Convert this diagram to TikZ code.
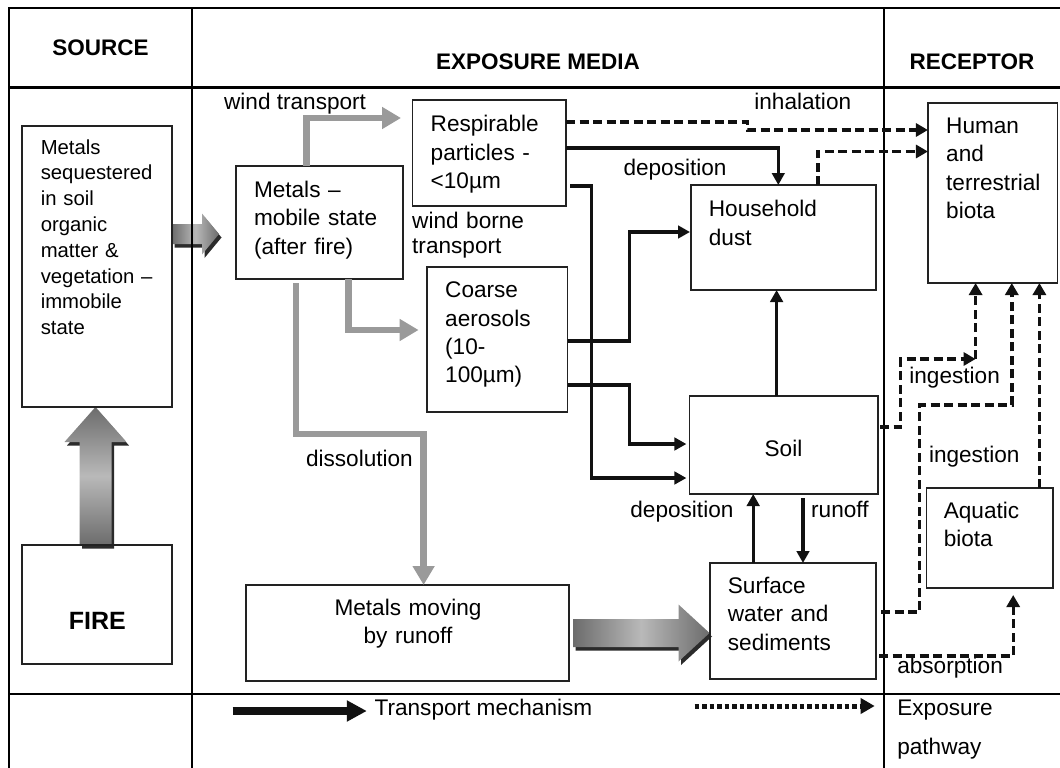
\documentclass[tikz,border=0pt]{standalone}
\usepackage{fontspec}
\setmainfont{Liberation Sans}
\usetikzlibrary{arrows.meta,calc}
\pgfdeclarelayer{bg}
\pgfdeclarelayer{mid}
\pgfsetlayers{bg,mid,main}
\definecolor{arrgray}{HTML}{9A9A9A}
\definecolor{fatdark}{HTML}{6C6C6C}
\definecolor{fatlight}{HTML}{B9B9B9}
\definecolor{shadowc}{HTML}{2B2B2B}
\definecolor{boxc}{HTML}{222222}
\definecolor{linec}{HTML}{111111}
\newcommand{\mybodyfont}{\fontsize{22.6}{28.4}\selectfont}
\newcommand{\myseqfont}{\fontsize{20.3}{25.8}\selectfont}
\newcommand{\myhdrfont}{\fontsize{22.5}{27}\selectfont\bfseries}
\begin{document}
\begin{tikzpicture}[x=1pt,y=-1pt,
  box/.style={draw=boxc, line width=1.4pt, rectangle, inner sep=0pt, outer sep=0pt},
  btxt/.style={font=\mybodyfont, inner sep=0pt, anchor=base west, align=left},
  lbl/.style={font=\mybodyfont, inner sep=0pt, anchor=base west},
  hdr/.style={font=\myhdrfont, inner sep=0pt, anchor=base},
  tbl/.style={draw=black, line width=2.3pt},
  grayarr/.style={draw=arrgray, line width=6.5pt, line join=miter, -{Triangle[length=19pt,width=21pt]}},
  solidarr/.style={draw=linec, line width=3.4pt, line join=miter, -{Triangle[length=12pt,width=12.5pt]}},
  dasharr/.style={draw=linec, line width=3.4pt, dash pattern=on 9pt off 4.5pt, -{Triangle[length=12pt,width=13pt]}},
  dotarr/.style={draw=linec, line width=5pt, dash pattern=on 4.5pt off 3pt, -{Triangle[length=14pt,width=15pt]}},
  legarr/.style={draw=linec, line width=8.5pt, -{Triangle[length=20pt,width=20pt]}}
]
\useasboundingbox (0,0) rectangle (1060,768);
\begin{pgfonlayer}{bg}
\fill[white] (0,0) rectangle (1060,768);
\end{pgfonlayer}

% ---------- table ----------
\draw[tbl] (9,768) -- (9,8) -- (1060,8);
\draw[tbl] (9,87.5) -- (1060,87.5);
\draw[tbl] (9,694) -- (1060,694);
\draw[tbl] (192,8) -- (192,768);
\draw[tbl] (884,8) -- (884,768);

\node[hdr] (hsrc) at (100.5,55.7) {SOURCE};
\node[hdr] (hexp) at (538,69.3) {EXPOSURE MEDIA};
\node[hdr] (hrec) at (972,69.3) {RECEPTOR};

% ---------- boxes ----------
\node[box, minimum width=150pt, minimum height=281pt] (seq) at (97,266.5) {};
\node[box, minimum width=150pt, minimum height=119pt] (fire) at (97,604.5) {};
\node[box, minimum width=167pt, minimum height=113pt] (mobile) at (319.5,222.5) {};
\node[box, minimum width=153.4pt, minimum height=106pt] (resp) at (489.3,153) {};
\node[box, minimum width=140.5pt, minimum height=145pt] (coarse) at (497.3,339.5) {};
\node[box, minimum width=185pt, minimum height=105pt] (household) at (783.5,237.5) {};
\node[box, minimum width=188.6pt, minimum height=98pt] (soil) at (783.7,445) {};
\node[box, minimum width=166pt, minimum height=116pt] (surface) at (793,621) {};
\node[box, minimum width=323pt, minimum height=96pt] (moving) at (407.5,633) {};
\node[box, minimum width=129.7pt, minimum height=180pt] (human) at (992.8,193) {};
\node[box, minimum width=126.6pt, minimum height=100pt] (aquatic) at (989.7,538) {};

% ---------- box texts ----------
\node[btxt, font=\myseqfont, text width=128pt] (seqT) at (40.6,154) {Metals\\sequestered\\in soil\\organic\\matter \&\\vegetation –\\immobile\\state};
\node[font=\fontsize{25}{30}\selectfont\bfseries, inner sep=0pt, anchor=base] (fireT) at (97.3,629.3) {FIRE};
\node[btxt, text width=145pt] (mobileT) at (253.8,197.3) {Metals –\\mobile state\\(after fire)};
\node[btxt, text width=130pt] (respT) at (430.5,131.7) {Respirable\\particles -\\<10µm};
\node[btxt, text width=120pt] (coarseT) at (445,297.7) {Coarse\\aerosols\\(10-\\100µm)};
\node[btxt, text width=160pt] (householdT) at (708.7,216.7) {Household\\dust};
\node[font=\mybodyfont, inner sep=0pt, anchor=base] (soilT) at (783.5,456) {Soil};
\node[btxt, text width=140pt] (surfaceT) at (727.7,593.3) {Surface\\water and\\sediments};
\node[font=\mybodyfont, inner sep=0pt, anchor=base, align=center, text width=220pt] (movingT) at (408,615) {Metals moving\\by runoff};
\node[btxt, text width=110pt] (humanT) at (946,133.3) {Human\\and\\terrestrial\\biota};
\node[btxt, text width=105pt] (aquaticT) at (943.6,518) {Aquatic\\biota};

% ---------- labels ----------
\node[lbl] (lwind) at (223.9,110) {wind transport};
\node[lbl, text width=120pt, align=left, font=\fontsize{22.6}{25.5}\selectfont] (lborne) at (412,228.3) {wind borne\\transport};
\node[lbl] (linh) at (754.2,110) {inhalation};
\node[lbl] (ldep1) at (623.3,175.7) {deposition};
\node[lbl] (ldiss) at (305.8,466) {dissolution};
\node[lbl] (ling1) at (909.2,383.3) {ingestion};
\node[lbl] (ling2) at (928.8,462.7) {ingestion};
\node[lbl] (ldep2) at (630.2,517.7) {deposition};
\node[lbl] (lrun) at (811,517.7) {runoff};
\node[lbl] (labs) at (897.1,673.3) {absorption};
\node[lbl] (ltrans) at (374.4,715) {Transport mechanism};
\node[lbl, text width=140pt, align=left, font=\fontsize{22.6}{39}\selectfont] (lexp) at (897.1,715) {Exposure\\pathway};

% ---------- fat shaded arrows ----------
\begin{pgfonlayer}{mid}
\coordinate (fa) at (seq.east |- 0,234);
\begin{scope}[shift={(fa)}]
  \fill[shadowc, shift={(2.5,3.5)}] (0,-10) -- (30,-10) -- (30,-20.5) -- (47,0) -- (30,20.5) -- (30,10) -- (0,10) -- cycle;
  \shade[left color=fatdark, right color=fatdark, middle color=fatlight] (0,-10) -- (30,-10) -- (30,-20.5) -- (47,0) -- (30,20.5) -- (30,10) -- (0,10) -- cycle;
\end{scope}
\coordinate (fb) at ([xshift=-1.5pt]fire.north);
\begin{scope}[shift={(fb)}]
  \fill[shadowc, shift={(2.5,3.5)}] (-16,0) -- (-16,-103) -- (-31,-103) -- (0,-138) -- (31,-103) -- (16,-103) -- (16,0) -- cycle;
  \shade[top color=fatdark, bottom color=fatdark, middle color=fatlight] (-16,0) -- (-16,-103) -- (-31,-103) -- (0,-138) -- (31,-103) -- (16,-103) -- (16,0) -- cycle;
\end{scope}
\coordinate (fc) at ([xshift=4pt]moving.east);
\begin{scope}[shift={(fc)}]
  \fill[shadowc, shift={(2.5,3.5)}] (0,-14) -- (105.5,-14) -- (105.5,-28.5) -- (136.5,0) -- (105.5,28.5) -- (105.5,14) -- (0,14) -- cycle;
  \shade[left color=fatdark, right color=fatdark, middle color=fatlight] (0,-14) -- (105.5,-14) -- (105.5,-28.5) -- (136.5,0) -- (105.5,28.5) -- (105.5,14) -- (0,14) -- cycle;
\end{scope}
\end{pgfonlayer}

% ---------- gray transport arrows ----------
\draw[grayarr, shorten >=11.6pt] (mobile.north -| 306.5,0) |- (resp.west |- 0,118);
\draw[grayarr, shorten >=8.5pt] (mobile.south -| 348.5,0) |- (coarse.west |- 0,330);
\draw[grayarr, shorten <=4pt] (mobile.south -| 296,0) -- (296,434) -| (moving.north -| 423.6,0);

% ---------- solid transport arrows ----------
\draw[solidarr] (resp.east |- 0,148) -| ([xshift=-5.2pt]household.north);
\draw[solidarr, shorten >=3pt] ([xshift=4pt]resp.east |- 0,186) -| (591.3,478) -- (soil.west |- 0,478);
\draw[solidarr, shorten >=1pt] (coarse.east |- 0,341) -| (629.5,232) -- (household.west |- 0,232);
\draw[solidarr, shorten >=3pt] (coarse.east |- 0,385) -| (629.5,444) -- (soil.west |- 0,444);
\draw[solidarr] (soil.north -| 776.6,0) -- (household.south -| 776.6,0);
\draw[solidarr] (surface.north -| 753.2,0) -- (soil.south -| 753.2,0);
\draw[solidarr, shorten <=4pt] (soil.south -| 803,0) -- (surface.north -| 803,0);

% ---------- dashed exposure pathways ----------
\draw[dasharr] (resp.east |- 0,122) -| (747.3,130) -- (human.west |- 0,130);
\draw[dasharr] (household.north -| 817.9,0) |- (human.west |- 0,151.5);
\coordinate (ing1) at (975.6,359);
\draw[dasharr] ([xshift=2pt]soil.east |- 0,427) -| (900.6,359) -- (ing1);
\draw[dasharr] (ing1) -- (human.south -| ing1);
\draw[dasharr] ([xshift=5pt]surface.east |- 0,612) -| (919.5,405) -| (human.south -| 1011.8,0);
\draw[dasharr] (aquatic.north -| 1039.4,0) -- (human.south -| 1039.4,0);
\draw[dasharr, shorten >=7pt] ([xshift=3pt]surface.east |- 0,656) -| (aquatic.south -| 1013.2,0);

% ---------- legend ----------
\coordinate (lg1) at (232.5,711);
\coordinate (lg2) at (366.8,711);
\draw[legarr] (lg1) -- (lg2);
\coordinate (lg3) at (694.6,706);
\coordinate (lg4) at (874.7,706);
\draw[dotarr] (lg3) -- (lg4);
\end{tikzpicture}
\end{document}
